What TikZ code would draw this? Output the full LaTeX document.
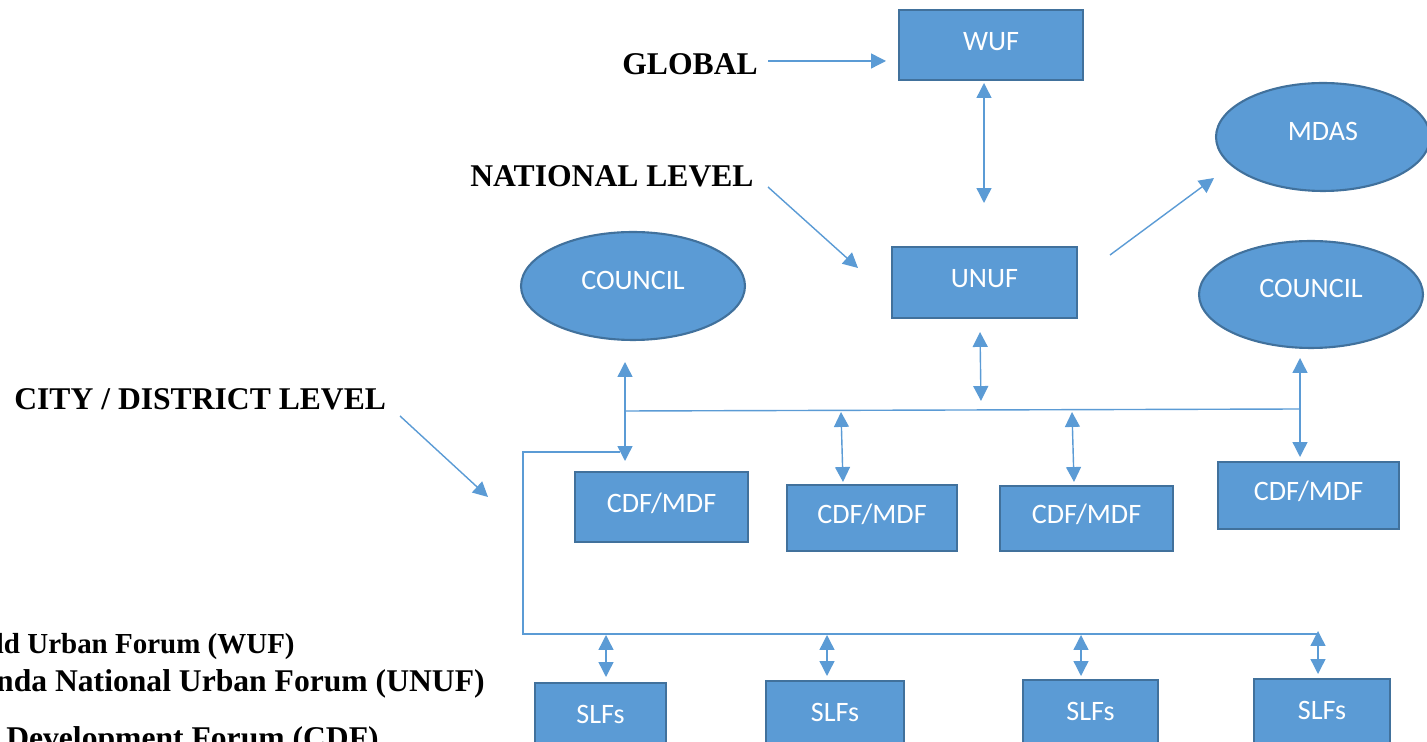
\documentclass[tikz,border=0pt]{standalone}
\usepackage{fontspec}
\setmainfont{Liberation Serif}
\newfontfamily\boxfont{Carlito}
\usepackage{xcolor}
\usetikzlibrary{arrows.meta,positioning,shapes.geometric}
\definecolor{myblue}{HTML}{5B9BD5}
\definecolor{darkblue}{HTML}{41719C}
\tikzset{%
  arrow/.style={draw=myblue,line width=0.8pt,-{Triangle[length=8.5pt,width=8.5pt]}},
  twoway/.style={draw=myblue,line width=0.8pt,{Triangle[length=8.5pt,width=8.5pt]}-{Triangle[length=8.5pt,width=8.5pt]}},
  bus/.style={draw=myblue,line width=0.8pt},
  forum/.style={rectangle,draw=darkblue,line width=1.2pt,fill=myblue,text=white,font=\boxfont\fontsize{16}{19}\selectfont,text height=10pt,text depth=4pt},
  body/.style={ellipse,draw=darkblue,line width=1.2pt,fill=myblue,text=white,font=\boxfont\fontsize{16}{19}\selectfont,text height=10pt,text depth=6.5pt},
  level/.style={font=\bfseries\fontsize{18}{22}\selectfont,inner sep=0pt},
}

\begin{document}
\begin{tikzpicture}[x=0.02cm,y=-0.02cm]
      \useasboundingbox (0,0) rectangle (1427,742);

      % levels
      \node[level,anchor=base west] (global) at (622,75) {GLOBAL};
      \node[level,anchor=base west] (national) at (470,187) {NATIONAL LEVEL};
      \node[level,anchor=base west] (city) at (14,410) {CITY / DISTRICT LEVEL};

      % key
      \node[level,font=\bfseries\fontsize{16.5}{20}\selectfont,anchor=base east] (wufkey) at (295,654) {ld Urban Forum (WUF)};
      \node[level,anchor=base east] (unufkey) at (485,692) {nda National Urban Forum (UNUF)};
      \node[level,anchor=base east] (cdfkey) at (379,748) {Development Forum (CDF)};

      % forums
      \node[forum,minimum width=3.68cm,minimum height=1.4cm] (wuf) at (991,45) {WUF};
      \node[forum,minimum width=3.7cm,minimum height=1.42cm] (unuf) at (984.5,282.5) {UNUF};
      \node[body,minimum width=4.28cm,minimum height=2.16cm] (mdas) at (1323,137) {MDAS};
      \node[body,minimum width=4.48cm,minimum height=2.16cm] (councilL) at (633,286) {COUNCIL};
      \node[body,minimum width=4.48cm,minimum height=2.14cm] (councilR) at (1311,294.5) {COUNCIL};

      \node[forum,minimum width=3.46cm,minimum height=1.4cm] (cdfA) at (661.5,507) {CDF/MDF};
      \node[forum,minimum width=3.4cm,minimum height=1.32cm] (cdfB) at (872,518) {CDF/MDF};
      \node[forum,minimum width=3.46cm,minimum height=1.3cm] (cdfC) at (1086.5,518.5) {CDF/MDF};
      \node[forum,minimum width=3.62cm,minimum height=1.34cm] (cdfD) at (1308.5,495.5) {CDF/MDF};

      \node[forum,minimum width=2.62cm,minimum height=1.4cm] (slfA) at (600.5,718) {SLFs};
      \node[forum,minimum width=2.76cm,minimum height=1.4cm] (slfB) at (835,716) {SLFs};
      \node[forum,minimum width=2.7cm,minimum height=1.4cm] (slfC) at (1090.5,715) {SLFs};
      \node[forum,minimum width=2.72cm,minimum height=1.4cm] (slfD) at (1322,714) {SLFs};

      % free ends
      \coordinate (globaltip) at (886,61);
      \coordinate (wufdown) at (984,83);
      \coordinate (unufup) at (984,203);
      \coordinate (natstart) at (768,187);
      \coordinate (nattip) at (858,268);
      \coordinate (mdasstart) at (1110,255);
      \coordinate (mdastip) at (1214,178);
      \coordinate (citystart) at (400,416);
      \coordinate (citytip) at (488,497);
      \coordinate (unufdown) at (980,332);
      \coordinate (busmid) at (981,401);
      \coordinate (busL) at (625,411);
      \coordinate (busR) at (1300,409);
      \coordinate (councilLdown) at (625,362);
      \coordinate (cdfAup) at (625,461);
      \coordinate (councilRdown) at (1300,358);
      \coordinate (cdfDup) at (1300,457);
      \coordinate (busB) at (841,412);
      \coordinate (cdfBup) at (843,482);
      \coordinate (busC) at (1072,412);
      \coordinate (cdfCup) at (1074,482);
      \coordinate (loopA) at (620,452);
      \coordinate (loopB) at (523,452);
      \coordinate (loopC) at (523,634);
      \coordinate (loopD) at (1318,634);
      \coordinate (slfAbus) at (606,635);
      \coordinate (slfAup) at (606,677);
      \coordinate (slfBbus) at (827,635);
      \coordinate (slfBup) at (827,676);
      \coordinate (slfCbus) at (1081,635);
      \coordinate (slfCup) at (1081,676);
      \coordinate (slfDbus) at (1318,631);
      \coordinate (slfDup) at (1318,674);

      % connectors
      \draw[arrow,shorten <=0.2cm] (global.east |- globaltip) -- (globaltip);
      \draw[twoway] (wufdown) -- (unufup);
      \draw[arrow] (natstart) -- (nattip);
      \draw[arrow] (mdasstart) -- (mdastip);
      \draw[arrow] (citystart) -- (citytip);
      \draw[twoway] (unufdown) -- (busmid);
      \draw[bus] (busL) -- (busR);
      \draw[twoway] (councilLdown) -- (cdfAup);
      \draw[twoway] (councilRdown) -- (cdfDup);
      \draw[twoway] (busB) -- (cdfBup);
      \draw[twoway] (busC) -- (cdfCup);
      \draw[bus] (loopA) -- (loopB) -- (loopC) -- (loopD);
      \draw[twoway] (slfAbus) -- (slfAup);
      \draw[twoway] (slfBbus) -- (slfBup);
      \draw[twoway] (slfCbus) -- (slfCup);
      \draw[twoway] (slfDbus) -- (slfDup);
    \end{tikzpicture}
\end{document}
